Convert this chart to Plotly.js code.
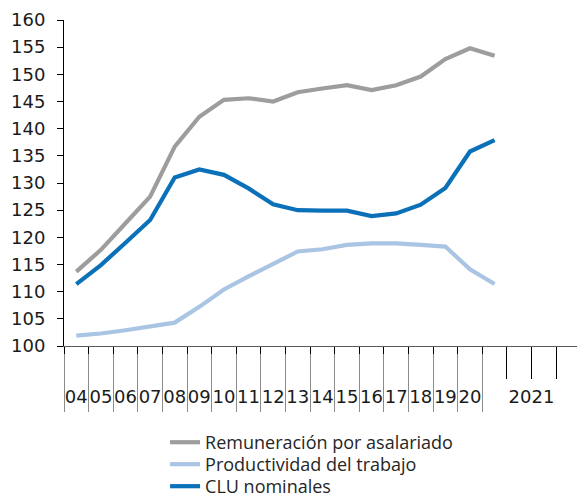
<!DOCTYPE html>
<html>
<head>
<meta charset="utf-8">
<script src="https://cdn.plot.ly/plotly-3.0.1.min.js"></script>
<style>html,body{margin:0;padding:0;background:#fff;}#chart{width:577px;height:498px;}</style>
</head>
<body>
<div id="chart"></div>
<script>
// Category labels (annual 2004-2020, then 2021 quarters)
const yearLabels = ['04','05','06','07','08','09','10','11','12','13','14','15','16','17','18','19','20'];
const groupLabel2021 = '2021';
const quartersIn2021 = 4;

// Series values (index 2004 = 100 based), last value = 2021 first period
const remuneracion = [113.7,117.7,122.6,127.5,136.7,142.2,145.3,145.6,145.0,146.7,147.4,148.0,147.1,148.0,149.6,152.8,154.8,153.4];
const productividad = [101.9,102.3,102.9,103.6,104.3,107.2,110.4,112.8,115.0,117.4,117.8,118.6,118.9,118.9,118.6,118.3,114.1,111.4];
const cluNominales = [111.4,114.9,119.0,123.2,131.0,132.5,131.5,129.0,126.1,125.0,124.9,124.9,123.9,124.4,126.0,129.1,135.8,137.9];

const seriesNames = ['Remuneración por asalariado','Productividad del trabajo','CLU nominales'];
const seriesColors = ['#9d9d9d','#a9c5e3','#0a70b8'];

const nYears = yearLabels.length;
const nSlots = nYears + quartersIn2021;
const xPos = remuneracion.map((_, i) => i + 0.5);

const labelVals = yearLabels.map((_, i) => i + 0.5).concat([nYears + quartersIn2021 / 2]);
const labelText = yearLabels.concat([groupLabel2021]);
const longTicks = []; for (let i = 0; i <= nYears; i++) longTicks.push(i);
const shortTicks = []; for (let i = nYears + 1; i <= nSlots - 1; i++) shortTicks.push(i);
const xRange = [0, nSlots - 0.15];

const legendIds = ['legend', 'legend2', 'legend3'];
const allSeries = [remuneracion, productividad, cluNominales];
const traces = allSeries.map((vals, k) => ({
  x: xPos, y: vals, type: 'scatter', mode: 'lines',
  name: seriesNames[k],
  legend: legendIds[k],
  line: {color: seriesColors[k], width: 4.2},
  hoverinfo: 'skip'
}));
// empty helper trace so the secondary tick axis is drawn
traces.push({x: [], y: [], xaxis: 'x2', yaxis: 'y', type: 'scatter', mode: 'lines', showlegend: false, hoverinfo: 'skip'});

function legendAt(yPaper) {
  return {
    orientation: 'v', x: 0.197, xanchor: 'left', y: yPaper, yanchor: 'top',
    font: {family: 'Open Sans, sans-serif', size: 18, color: '#262626'},
    itemwidth: 30, tracegroupgap: 0, bgcolor: 'rgba(0,0,0,0)'
  };
}

const layout = {
  width: 577, height: 498,
  margin: {l: 64, r: 0, t: 20, b: 152, autoexpand: false},
  paper_bgcolor: '#ffffff', plot_bgcolor: '#ffffff',
  font: {family: 'DejaVu Sans, sans-serif', size: 18, color: '#1a1a1a'},
  showlegend: true,
  legend: legendAt(-0.2393),
  legend2: legendAt(-0.3067),
  legend3: legendAt(-0.3742),
  xaxis: {
    range: xRange, fixedrange: true,
    tickmode: 'array', tickvals: labelVals, ticktext: labelText,
    ticks: '', ticklabelstandoff: 34, tickangle: 0,
    tickfont: {family: 'DejaVu Sans, sans-serif', size: 18, color: '#1a1a1a'},
    showline: true, linecolor: '#595959', linewidth: 1,
    showgrid: false, zeroline: false,
    minor: {tickmode: 'array', tickvals: longTicks, ticks: 'outside', ticklen: 65, tickwidth: 1, tickcolor: '#8c8c8c', showgrid: false}
  },
  xaxis2: {
    overlaying: 'x', anchor: 'y', side: 'bottom', range: xRange, fixedrange: true,
    tickmode: 'array', tickvals: longTicks, ticktext: longTicks.map(() => ''),
    ticks: 'outside', ticklen: 7, tickwidth: 1, tickcolor: '#000000',
    showticklabels: false, showline: false, showgrid: false, zeroline: false,
    minor: {tickmode: 'array', tickvals: shortTicks, ticks: 'outside', ticklen: 32, tickwidth: 1, tickcolor: '#000000', showgrid: false}
  },
  yaxis: {
    range: [100, 160], fixedrange: true, dtick: 5, tick0: 100,
    ticks: 'outside', ticklen: 6, tickwidth: 1, tickcolor: '#000000',
    ticklabelstandoff: 8,
    tickfont: {family: 'DejaVu Sans, sans-serif', size: 18, color: '#1a1a1a'},
    showline: true, linecolor: '#000000', linewidth: 1,
    showgrid: false, zeroline: false
  }
};

Plotly.newPlot('chart', traces, layout, {displayModeBar: false, staticPlot: true});
</script>
</body>
</html>
